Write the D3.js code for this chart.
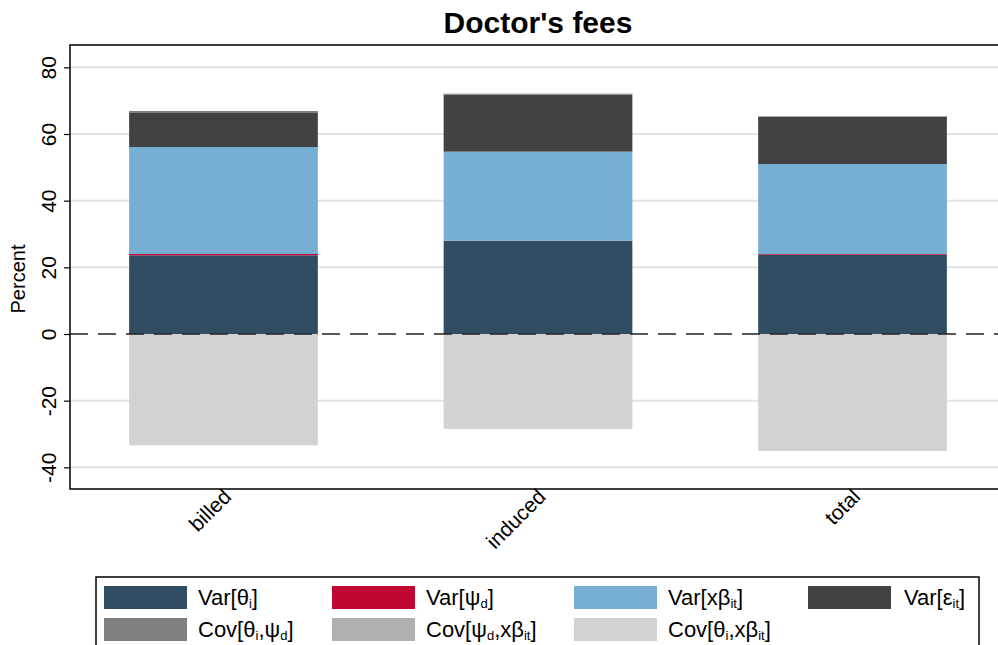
<!DOCTYPE html>
<html>
<head>
<meta charset="utf-8">
<script src="https://cdn.jsdelivr.net/npm/d3@7"></script>
<style>
  body { margin: 0; background: #fff; }
  svg { display: block; font-family: "Liberation Sans", Arial, sans-serif; }
</style>
</head>
<body>
<svg id="chart" width="998" height="645"></svg>
<script>
const categories = ["billed", "induced", "total"];
const varTheta = [23.6, 28.0, 23.8];
const varPsi = [0.4, 0.0, 0.2];
const varXb = [32.1, 26.7, 27.0];
const varEps = [10.4, 17.1, 14.2];
const covThetaPsi = [0.4, 0.3, 0.1];
const covPsiXb = [0.0, 0.0, 0.0];
const covThetaXb = [-33.4, -28.5, -35.1];
const yTicks = [-40, -20, 0, 20, 40, 60, 80];

// legend: label parts [text, "sub" for subscript]
const series = [
  { key: "varTheta", values: varTheta, color: "#304d61", label: [["Var[θ", ""], ["i", "sub"], ["]", ""]] },
  { key: "varPsi", values: varPsi, color: "#c10534", label: [["Var[ψ", ""], ["d", "sub"], ["]", ""]] },
  { key: "varXb", values: varXb, color: "#76aed4", label: [["Var[xβ", ""], ["it", "sub"], ["]", ""]] },
  { key: "varEps", values: varEps, color: "#424242", label: [["Var[ε", ""], ["it", "sub"], ["]", ""]] },
  { key: "covThetaPsi", values: covThetaPsi, color: "#808080", label: [["Cov[θ", ""], ["i", "sub"], [",ψ", ""], ["d", "sub"], ["]", ""]] },
  { key: "covPsiXb", values: covPsiXb, color: "#b0b0b0", label: [["Cov[ψ", ""], ["d", "sub"], [",xβ", ""], ["it", "sub"], ["]", ""]] },
  { key: "covThetaXb", values: covThetaXb, color: "#d2d2d2", label: [["Cov[θ", ""], ["i", "sub"], [",xβ", ""], ["it", "sub"], ["]", ""]] }
];

const rows = categories.map((c, i) => {
  const r = { cat: c };
  series.forEach(s => r[s.key] = s.values[i]);
  return r;
});

const svg = d3.select("#chart");
const plot = { left: 70, top: 45, right: 1006, bottom: 489 };

const x = d3.scaleBand()
  .domain(categories)
  .range([plot.left, plot.right])
  .paddingInner(0.4)
  .paddingOuter(0.188);

const y = d3.scaleLinear()
  .domain([-46.5, 86.7])
  .range([plot.bottom, plot.top]);

// gridlines
svg.append("g")
  .selectAll("line")
  .data(yTicks.filter(t => t !== 0))
  .join("line")
  .attr("x1", plot.left).attr("x2", plot.right)
  .attr("y1", d => y(d)).attr("y2", d => y(d))
  .attr("stroke", "#e3e3e3")
  .attr("stroke-width", 2);

// bars
const stack = d3.stack()
  .keys(series.map(s => s.key))
  .offset(d3.stackOffsetDiverging);

const layers = stack(rows);

svg.append("g")
  .selectAll("g")
  .data(layers)
  .join("g")
  .attr("fill", (d, i) => series[i].color)
  .selectAll("rect")
  .data(d => d)
  .join("rect")
  .attr("x", d => x(d.data.cat))
  .attr("width", x.bandwidth())
  .attr("y", d => y(Math.max(d[0], d[1])))
  .attr("height", d => Math.abs(y(d[0]) - y(d[1])));

// zero line
svg.append("line")
  .attr("x1", plot.left).attr("x2", plot.right)
  .attr("y1", y(0)).attr("y2", y(0))
  .attr("stroke", "#222")
  .attr("stroke-width", 1.5)
  .attr("stroke-dasharray", "18,10");

// frame
svg.append("rect")
  .attr("x", plot.left).attr("y", plot.top)
  .attr("width", plot.right - plot.left)
  .attr("height", plot.bottom - plot.top)
  .attr("fill", "none")
  .attr("stroke", "#000")
  .attr("stroke-width", 1.5);

// y axis
const yAxis = svg.append("g")
  .attr("transform", `translate(${plot.left},0)`)
  .call(d3.axisLeft(y).tickValues(yTicks).tickSize(6).tickFormat(d => String(d)));
yAxis.select(".domain").remove();
yAxis.selectAll(".tick line").attr("stroke", "#000").attr("stroke-width", 1.2);
yAxis.selectAll(".tick text")
  .attr("font-size", 21)
  .attr("font-family", "Liberation Sans, Arial, sans-serif")
  .attr("fill", "#000")
  .attr("text-anchor", "middle")
  .attr("dy", null)
  .attr("x", null)
  .attr("transform", "translate(-22,0) rotate(-90)")
  .attr("dominant-baseline", "central");

svg.append("text")
  .attr("transform", `translate(25,${(plot.top + plot.bottom) / 2 + 12}) rotate(-90)`)
  .attr("text-anchor", "middle")
  .attr("font-size", 20)
  .text("Percent");

// x labels
svg.append("g")
  .selectAll("text")
  .data(categories)
  .join("text")
  .attr("transform", d => `translate(${x(d) + x.bandwidth() / 2 + 9},${plot.bottom + 9}) rotate(-45)`)
  .attr("text-anchor", "end")
  .attr("font-size", 21)
  .text(d => d);

// title
svg.append("text")
  .attr("x", (plot.left + plot.right) / 2)
  .attr("y", 33)
  .attr("text-anchor", "middle")
  .attr("font-size", 30)
  .attr("font-weight", "bold")
  .text("Doctor's fees");

// legend
svg.append("rect")
  .attr("x", 96).attr("y", 577)
  .attr("width", 883).attr("height", 90)
  .attr("fill", "#fff")
  .attr("stroke", "#000")
  .attr("stroke-width", 1.5);

const colX = [104, 332, 574, 808];
const rowY = [586, 618];
const legend = svg.append("g")
  .selectAll("g")
  .data(series)
  .join("g")
  .attr("transform", (d, i) => `translate(${colX[i % 4]},${rowY[Math.floor(i / 4)]})`);

legend.append("rect")
  .attr("width", 83).attr("height", 23)
  .attr("fill", d => d.color);

const lt = legend.append("text")
  .attr("x", (d, i) => i % 4 === 3 ? 96 : 94)
  .attr("y", 19)
  .attr("font-size", 22);

lt.each(function (d) {
  const t = d3.select(this);
  d.label.forEach(([s, kind]) => {
    const sp = t.append("tspan").text(s);
    if (kind === "sub") {
      sp.attr("font-size", 13).attr("dy", 3);
    } else {
      sp.attr("dy", t.selectAll("tspan").size() > 1 ? -3 : 0);
    }
  });
});
</script>
</body>
</html>
